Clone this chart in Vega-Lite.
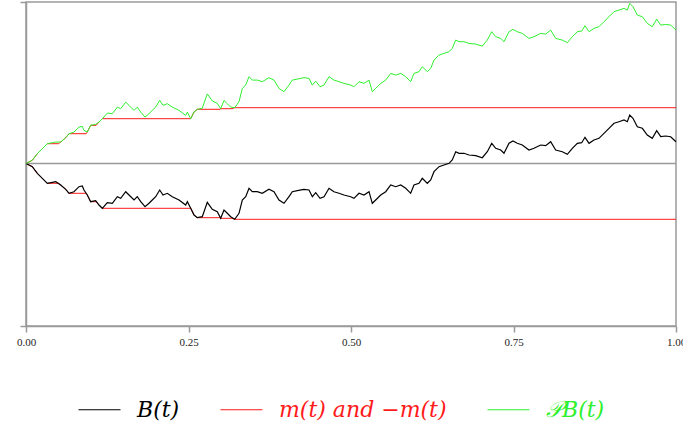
{
  "$schema": "https://vega.github.io/schema/vega-lite/v6.json",
  "width": 650,
  "height": 324,
  "autosize": {"type": "none"},
  "padding": {"left": 26, "top": 2, "right": 7, "bottom": 102},
  "config": {
    "view": {"stroke": "#9a9a9a", "strokeWidth": 1.5},
    "font": "Liberation Serif",
    "legend": {
      "orient": "none",
      "legendX": 52,
      "legendY": 386,
      "direction": "horizontal",
      "symbolType": "stroke",
      "symbolSize": 1764,
      "symbolStrokeWidth": 1,
      "labelFont": "DejaVu Serif",
      "labelFontStyle": "italic",
      "labelFontSize": 22,
      "labelOffset": 16,
      "columnPadding": 38,
      "padding": 0,
      "labelLimit": 400
    }
  },
  "encoding": {
    "x": {
      "field": "t",
      "type": "quantitative",
      "scale": {"domain": [0, 1], "nice": false, "zero": false},
      "axis": {
        "title": null,
        "values": [0, 0.25, 0.5, 0.75, 1],
        "format": ".2f",
        "labelFont": "Liberation Serif",
        "labelFontSize": 11,
        "labelColor": "#222222",
        "labelFlush": false,
        "labelDx": -2,
        "labelPadding": 4,
        "tickSize": 6,
        "tickColor": "#9a9a9a",
        "tickWidth": 1.5,
        "domainColor": "#9a9a9a",
        "domainWidth": 1.5,
        "grid": false
      }
    },
    "y": {
      "field": "v",
      "type": "quantitative",
      "scale": {"domain": [-1.625, 1.615], "nice": false, "zero": false},
      "axis": {
        "title": null,
        "values": [-1.625, 1.615],
        "labels": false,
        "tickSize": 6,
        "tickColor": "#9a9a9a",
        "tickWidth": 1.5,
        "domainColor": "#9a9a9a",
        "domainWidth": 1.5,
        "grid": false
      }
    }
  },
  "layer": [
    {
      "data": {"values": [{"t": 0, "t2": 1, "v": 0}]},
      "mark": {"type": "rule", "color": "#9a9a9a", "strokeWidth": 1.5},
      "encoding": {"x2": {"field": "t2"}}
    },
    {
      "data": {"values": [
        {"g": "lo", "t": 0, "v": 0}, {"g": "lo", "t": 0.0097, "v": -0.032}, {"g": "lo", "t": 0.0174, "v": -0.098}, {"g": "lo", "t": 0.0251, "v": -0.148}, {"g": "lo", "t": 0.0328, "v": -0.198}, {"g": "lo", "t": 0.05, "v": -0.198}, {"g": "lo", "t": 0.0534, "v": -0.215}, {"g": "lo", "t": 0.0611, "v": -0.258}, {"g": "lo", "t": 0.0662, "v": -0.298}, {"g": "lo", "t": 0.0925, "v": -0.298}, {"g": "lo", "t": 0.0943, "v": -0.315}, {"g": "lo", "t": 0.0995, "v": -0.382}, {"g": "lo", "t": 0.108, "v": -0.382}, {"g": "lo", "t": 0.1123, "v": -0.415}, {"g": "lo", "t": 0.1174, "v": -0.448}, {"g": "lo", "t": 0.2534, "v": -0.448}, {"g": "lo", "t": 0.2585, "v": -0.515}, {"g": "lo", "t": 0.2635, "v": -0.542}, {"g": "lo", "t": 0.299, "v": -0.542}, {"g": "lo", "t": 0.2995, "v": -0.548}, {"g": "lo", "t": 0.317, "v": -0.548}, {"g": "lo", "t": 0.3211, "v": -0.558}, {"g": "lo", "t": 1, "v": -0.558},
        {"g": "hi", "t": 0, "v": 0}, {"g": "hi", "t": 0.0097, "v": 0.032}, {"g": "hi", "t": 0.0174, "v": 0.098}, {"g": "hi", "t": 0.0251, "v": 0.148}, {"g": "hi", "t": 0.0328, "v": 0.198}, {"g": "hi", "t": 0.05, "v": 0.198}, {"g": "hi", "t": 0.0534, "v": 0.215}, {"g": "hi", "t": 0.0611, "v": 0.258}, {"g": "hi", "t": 0.0662, "v": 0.298}, {"g": "hi", "t": 0.0925, "v": 0.298}, {"g": "hi", "t": 0.0943, "v": 0.315}, {"g": "hi", "t": 0.0995, "v": 0.382}, {"g": "hi", "t": 0.108, "v": 0.382}, {"g": "hi", "t": 0.1123, "v": 0.415}, {"g": "hi", "t": 0.1174, "v": 0.448}, {"g": "hi", "t": 0.2534, "v": 0.448}, {"g": "hi", "t": 0.2585, "v": 0.515}, {"g": "hi", "t": 0.2635, "v": 0.542}, {"g": "hi", "t": 0.299, "v": 0.542}, {"g": "hi", "t": 0.2995, "v": 0.548}, {"g": "hi", "t": 0.317, "v": 0.548}, {"g": "hi", "t": 0.3211, "v": 0.558}, {"g": "hi", "t": 1, "v": 0.558}
      ]},
      "mark": {"type": "line", "strokeWidth": 1},
      "encoding": {
        "detail": {"field": "g"},
        "color": {
          "datum": "m(t) and −m(t)",
          "scale": {"domain": ["B(t)", "m(t) and −m(t)", "𝒫B(t)"], "range": ["#000000", "#ff1a1a", "#2ef02e"]},
          "legend": {"title": null, "labelColor": {"expr": "datum.value == 'B(t)' ? '#000000' : (datum.value == '𝒫B(t)' ? '#2ef02e' : '#ff1a1a')"}}
        }
      }
    },
    {
      "data": {"values": [
        {"t": 0, "v": 0}, {"t": 0.0097, "v": -0.032}, {"t": 0.0174, "v": -0.098}, {"t": 0.0251, "v": -0.148}, {"t": 0.0328, "v": -0.198}, {"t": 0.0405, "v": -0.188}, {"t": 0.0457, "v": -0.182}, {"t": 0.0534, "v": -0.215}, {"t": 0.0611, "v": -0.258}, {"t": 0.0662, "v": -0.298}, {"t": 0.0738, "v": -0.282}, {"t": 0.0815, "v": -0.232}, {"t": 0.0866, "v": -0.225}, {"t": 0.0892, "v": -0.265}, {"t": 0.0943, "v": -0.315}, {"t": 0.0995, "v": -0.382}, {"t": 0.1072, "v": -0.372}, {"t": 0.1123, "v": -0.415}, {"t": 0.1174, "v": -0.448}, {"t": 0.1251, "v": -0.392}, {"t": 0.1328, "v": -0.398}, {"t": 0.1405, "v": -0.332}, {"t": 0.1457, "v": -0.348}, {"t": 0.1534, "v": -0.282}, {"t": 0.1585, "v": -0.315}, {"t": 0.1662, "v": -0.365}, {"t": 0.1712, "v": -0.332}, {"t": 0.1765, "v": -0.382}, {"t": 0.1831, "v": -0.432}, {"t": 0.1892, "v": -0.398}, {"t": 0.1943, "v": -0.365}, {"t": 0.1995, "v": -0.332}, {"t": 0.2057, "v": -0.265}, {"t": 0.2108, "v": -0.315}, {"t": 0.2174, "v": -0.298}, {"t": 0.2251, "v": -0.332}, {"t": 0.2354, "v": -0.365}, {"t": 0.2457, "v": -0.415}, {"t": 0.2482, "v": -0.382}, {"t": 0.2534, "v": -0.448}, {"t": 0.2585, "v": -0.515}, {"t": 0.2635, "v": -0.542}, {"t": 0.2712, "v": -0.532}, {"t": 0.2789, "v": -0.388}, {"t": 0.2866, "v": -0.458}, {"t": 0.2943, "v": -0.482}, {"t": 0.2995, "v": -0.548}, {"t": 0.3046, "v": -0.465}, {"t": 0.3097, "v": -0.498}, {"t": 0.3149, "v": -0.532}, {"t": 0.3211, "v": -0.558}, {"t": 0.3277, "v": -0.498}, {"t": 0.3328, "v": -0.365}, {"t": 0.338, "v": -0.332}, {"t": 0.3431, "v": -0.248}, {"t": 0.3482, "v": -0.282}, {"t": 0.3558, "v": -0.282}, {"t": 0.3635, "v": -0.298}, {"t": 0.3738, "v": -0.258}, {"t": 0.3815, "v": -0.282}, {"t": 0.3892, "v": -0.365}, {"t": 0.3969, "v": -0.398}, {"t": 0.4046, "v": -0.332}, {"t": 0.4097, "v": -0.282}, {"t": 0.4174, "v": -0.272}, {"t": 0.4277, "v": -0.258}, {"t": 0.4354, "v": -0.265}, {"t": 0.4405, "v": -0.332}, {"t": 0.4457, "v": -0.292}, {"t": 0.4523, "v": -0.348}, {"t": 0.4585, "v": -0.332}, {"t": 0.4662, "v": -0.248}, {"t": 0.4738, "v": -0.282}, {"t": 0.4815, "v": -0.298}, {"t": 0.4892, "v": -0.315}, {"t": 0.4995, "v": -0.332}, {"t": 0.5046, "v": -0.348}, {"t": 0.5123, "v": -0.298}, {"t": 0.52, "v": -0.315}, {"t": 0.5277, "v": -0.282}, {"t": 0.5328, "v": -0.398}, {"t": 0.538, "v": -0.365}, {"t": 0.5457, "v": -0.315}, {"t": 0.5534, "v": -0.282}, {"t": 0.5611, "v": -0.215}, {"t": 0.5688, "v": -0.232}, {"t": 0.5765, "v": -0.215}, {"t": 0.5842, "v": -0.248}, {"t": 0.5918, "v": -0.298}, {"t": 0.5969, "v": -0.215}, {"t": 0.6046, "v": -0.198}, {"t": 0.6097, "v": -0.148}, {"t": 0.6174, "v": -0.198}, {"t": 0.6226, "v": -0.165}, {"t": 0.6277, "v": -0.082}, {"t": 0.6354, "v": -0.032}, {"t": 0.6431, "v": -0.015}, {"t": 0.6508, "v": 0.002}, {"t": 0.6558, "v": 0.035}, {"t": 0.6611, "v": 0.118}, {"t": 0.6662, "v": 0.102}, {"t": 0.6738, "v": 0.102}, {"t": 0.6815, "v": 0.085}, {"t": 0.6918, "v": 0.078}, {"t": 0.702, "v": 0.058}, {"t": 0.7097, "v": 0.118}, {"t": 0.7165, "v": 0.202}, {"t": 0.7226, "v": 0.152}, {"t": 0.7303, "v": 0.135}, {"t": 0.7354, "v": 0.102}, {"t": 0.7431, "v": 0.202}, {"t": 0.7492, "v": 0.225}, {"t": 0.7558, "v": 0.202}, {"t": 0.7635, "v": 0.185}, {"t": 0.7738, "v": 0.135}, {"t": 0.7815, "v": 0.152}, {"t": 0.7918, "v": 0.185}, {"t": 0.7995, "v": 0.178}, {"t": 0.8072, "v": 0.218}, {"t": 0.8149, "v": 0.135}, {"t": 0.8251, "v": 0.118}, {"t": 0.8328, "v": 0.092}, {"t": 0.8405, "v": 0.152}, {"t": 0.8482, "v": 0.202}, {"t": 0.8549, "v": 0.208}, {"t": 0.86, "v": 0.262}, {"t": 0.8662, "v": 0.202}, {"t": 0.8738, "v": 0.235}, {"t": 0.8815, "v": 0.252}, {"t": 0.8892, "v": 0.302}, {"t": 0.8969, "v": 0.352}, {"t": 0.9046, "v": 0.402}, {"t": 0.9123, "v": 0.418}, {"t": 0.92, "v": 0.435}, {"t": 0.9251, "v": 0.418}, {"t": 0.9288, "v": 0.485}, {"t": 0.9338, "v": 0.452}, {"t": 0.9405, "v": 0.368}, {"t": 0.9482, "v": 0.352}, {"t": 0.9558, "v": 0.285}, {"t": 0.9635, "v": 0.252}, {"t": 0.9703, "v": 0.328}, {"t": 0.9765, "v": 0.268}, {"t": 0.9842, "v": 0.275}, {"t": 0.9918, "v": 0.268}, {"t": 1, "v": 0.218}
      ]},
      "mark": {"type": "line", "strokeWidth": 1.2},
      "encoding": {
        "color": {
          "datum": "B(t)",
          "scale": {"domain": ["B(t)", "m(t) and −m(t)", "𝒫B(t)"], "range": ["#000000", "#ff1a1a", "#2ef02e"]},
          "legend": {"title": null, "labelColor": {"expr": "datum.value == 'B(t)' ? '#000000' : (datum.value == '𝒫B(t)' ? '#2ef02e' : '#ff1a1a')"}}
        }
      }
    },
    {
      "data": {"values": [
        {"t": 0, "v": 0}, {"t": 0.0097, "v": 0.032}, {"t": 0.0174, "v": 0.098}, {"t": 0.0251, "v": 0.148}, {"t": 0.0328, "v": 0.198}, {"t": 0.0405, "v": 0.208}, {"t": 0.0457, "v": 0.214}, {"t": 0.0534, "v": 0.215}, {"t": 0.0611, "v": 0.258}, {"t": 0.0662, "v": 0.298}, {"t": 0.0738, "v": 0.314}, {"t": 0.0815, "v": 0.364}, {"t": 0.0866, "v": 0.371}, {"t": 0.0892, "v": 0.331}, {"t": 0.0943, "v": 0.315}, {"t": 0.0995, "v": 0.382}, {"t": 0.1072, "v": 0.392}, {"t": 0.1123, "v": 0.415}, {"t": 0.1174, "v": 0.448}, {"t": 0.1251, "v": 0.504}, {"t": 0.1328, "v": 0.498}, {"t": 0.1405, "v": 0.564}, {"t": 0.1457, "v": 0.548}, {"t": 0.1534, "v": 0.614}, {"t": 0.1585, "v": 0.581}, {"t": 0.1662, "v": 0.531}, {"t": 0.1712, "v": 0.564}, {"t": 0.1765, "v": 0.514}, {"t": 0.1831, "v": 0.464}, {"t": 0.1892, "v": 0.498}, {"t": 0.1943, "v": 0.531}, {"t": 0.1995, "v": 0.564}, {"t": 0.2057, "v": 0.631}, {"t": 0.2108, "v": 0.581}, {"t": 0.2174, "v": 0.598}, {"t": 0.2251, "v": 0.564}, {"t": 0.2354, "v": 0.531}, {"t": 0.2457, "v": 0.481}, {"t": 0.2482, "v": 0.514}, {"t": 0.2534, "v": 0.448}, {"t": 0.2585, "v": 0.515}, {"t": 0.2635, "v": 0.542}, {"t": 0.2712, "v": 0.552}, {"t": 0.2789, "v": 0.696}, {"t": 0.2866, "v": 0.626}, {"t": 0.2943, "v": 0.602}, {"t": 0.2995, "v": 0.548}, {"t": 0.3046, "v": 0.631}, {"t": 0.3097, "v": 0.598}, {"t": 0.3149, "v": 0.564}, {"t": 0.3211, "v": 0.558}, {"t": 0.3277, "v": 0.618}, {"t": 0.3328, "v": 0.751}, {"t": 0.338, "v": 0.784}, {"t": 0.3431, "v": 0.868}, {"t": 0.3482, "v": 0.834}, {"t": 0.3558, "v": 0.834}, {"t": 0.3635, "v": 0.818}, {"t": 0.3738, "v": 0.858}, {"t": 0.3815, "v": 0.834}, {"t": 0.3892, "v": 0.751}, {"t": 0.3969, "v": 0.718}, {"t": 0.4046, "v": 0.784}, {"t": 0.4097, "v": 0.834}, {"t": 0.4174, "v": 0.844}, {"t": 0.4277, "v": 0.858}, {"t": 0.4354, "v": 0.851}, {"t": 0.4405, "v": 0.784}, {"t": 0.4457, "v": 0.824}, {"t": 0.4523, "v": 0.768}, {"t": 0.4585, "v": 0.784}, {"t": 0.4662, "v": 0.868}, {"t": 0.4738, "v": 0.834}, {"t": 0.4815, "v": 0.818}, {"t": 0.4892, "v": 0.801}, {"t": 0.4995, "v": 0.784}, {"t": 0.5046, "v": 0.768}, {"t": 0.5123, "v": 0.818}, {"t": 0.52, "v": 0.801}, {"t": 0.5277, "v": 0.834}, {"t": 0.5328, "v": 0.718}, {"t": 0.538, "v": 0.751}, {"t": 0.5457, "v": 0.801}, {"t": 0.5534, "v": 0.834}, {"t": 0.5611, "v": 0.901}, {"t": 0.5688, "v": 0.884}, {"t": 0.5765, "v": 0.901}, {"t": 0.5842, "v": 0.868}, {"t": 0.5918, "v": 0.818}, {"t": 0.5969, "v": 0.901}, {"t": 0.6046, "v": 0.918}, {"t": 0.6097, "v": 0.968}, {"t": 0.6174, "v": 0.918}, {"t": 0.6226, "v": 0.951}, {"t": 0.6277, "v": 1.034}, {"t": 0.6354, "v": 1.084}, {"t": 0.6431, "v": 1.101}, {"t": 0.6508, "v": 1.118}, {"t": 0.6558, "v": 1.151}, {"t": 0.6611, "v": 1.234}, {"t": 0.6662, "v": 1.218}, {"t": 0.6738, "v": 1.218}, {"t": 0.6815, "v": 1.201}, {"t": 0.6918, "v": 1.194}, {"t": 0.702, "v": 1.174}, {"t": 0.7097, "v": 1.234}, {"t": 0.7165, "v": 1.318}, {"t": 0.7226, "v": 1.268}, {"t": 0.7303, "v": 1.251}, {"t": 0.7354, "v": 1.218}, {"t": 0.7431, "v": 1.318}, {"t": 0.7492, "v": 1.341}, {"t": 0.7558, "v": 1.318}, {"t": 0.7635, "v": 1.301}, {"t": 0.7738, "v": 1.251}, {"t": 0.7815, "v": 1.268}, {"t": 0.7918, "v": 1.301}, {"t": 0.7995, "v": 1.294}, {"t": 0.8072, "v": 1.334}, {"t": 0.8149, "v": 1.251}, {"t": 0.8251, "v": 1.234}, {"t": 0.8328, "v": 1.208}, {"t": 0.8405, "v": 1.268}, {"t": 0.8482, "v": 1.318}, {"t": 0.8549, "v": 1.324}, {"t": 0.86, "v": 1.378}, {"t": 0.8662, "v": 1.318}, {"t": 0.8738, "v": 1.351}, {"t": 0.8815, "v": 1.368}, {"t": 0.8892, "v": 1.418}, {"t": 0.8969, "v": 1.468}, {"t": 0.9046, "v": 1.518}, {"t": 0.9123, "v": 1.534}, {"t": 0.92, "v": 1.551}, {"t": 0.9251, "v": 1.534}, {"t": 0.9288, "v": 1.601}, {"t": 0.9338, "v": 1.568}, {"t": 0.9405, "v": 1.484}, {"t": 0.9482, "v": 1.468}, {"t": 0.9558, "v": 1.401}, {"t": 0.9635, "v": 1.368}, {"t": 0.9703, "v": 1.444}, {"t": 0.9765, "v": 1.384}, {"t": 0.9842, "v": 1.391}, {"t": 0.9918, "v": 1.384}, {"t": 1, "v": 1.334}
      ]},
      "mark": {"type": "line", "strokeWidth": 1},
      "encoding": {
        "color": {
          "datum": "𝒫B(t)",
          "scale": {"domain": ["B(t)", "m(t) and −m(t)", "𝒫B(t)"], "range": ["#000000", "#ff1a1a", "#2ef02e"]},
          "legend": {"title": null, "labelColor": {"expr": "datum.value == 'B(t)' ? '#000000' : (datum.value == '𝒫B(t)' ? '#2ef02e' : '#ff1a1a')"}}
        }
      }
    }
  ]
}
